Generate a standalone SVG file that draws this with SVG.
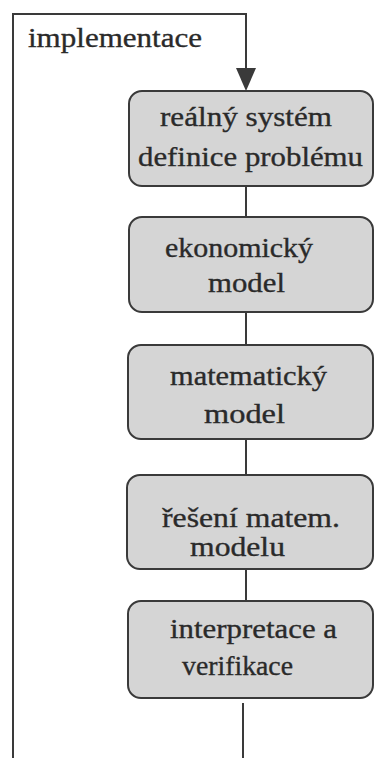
<svg xmlns="http://www.w3.org/2000/svg" width="376" height="758" viewBox="0 0 376 758">
  <style>
    .box { fill: #d5d5d5; stroke: #3a3a3a; stroke-width: 2; }
    .wire { fill: none; stroke: #3a3a3a; stroke-width: 2; }
    .lbl { font-family: 'Liberation Serif', 'DejaVu Serif', 'Times New Roman', serif; font-size: 28px; fill: #2a2a2a; stroke: #2a2a2a; stroke-width: 0.35; }
  </style>
  <rect width="376" height="758" fill="#ffffff"/>

  <!-- connectors -->
  <g id="connectors">
    <!-- feedback loop: implementace back to the first step -->
    <path class="wire" d="M243,703 V758 M13,758 V14 H246 V70"/>
    <polygon points="236,68 256,68 246,91" fill="#3a3a3a"/>
    <path class="wire" d="M246,186 V217 M246,312 V345 M246,439 V475 M246,569 V601"/>
  </g>

  <g id="label-implementace">
    <text class="lbl" x="28" y="47" textLength="174" lengthAdjust="spacingAndGlyphs">implementace</text>
  </g>

  <g id="n1">
    <rect class="box" x="129" y="91" width="244" height="95" rx="13"/>
    <text class="lbl" x="160" y="126" textLength="172" lengthAdjust="spacingAndGlyphs">reálný systém</text>
    <text class="lbl" x="138" y="166" textLength="225" lengthAdjust="spacingAndGlyphs">definice problému</text>
  </g>

  <g id="n2">
    <rect class="box" x="129" y="217" width="244" height="95" rx="13"/>
    <text class="lbl" x="165" y="257" textLength="148" lengthAdjust="spacingAndGlyphs">ekonomický</text>
    <text class="lbl" x="208" y="292" textLength="77" lengthAdjust="spacingAndGlyphs">model</text>
  </g>

  <g id="n3">
    <rect class="box" x="128" y="345" width="245" height="94" rx="13"/>
    <text class="lbl" x="170" y="385" textLength="157" lengthAdjust="spacingAndGlyphs">matematický</text>
    <text class="lbl" x="204" y="423" textLength="81" lengthAdjust="spacingAndGlyphs">model</text>
  </g>

  <g id="n4">
    <rect class="box" x="127" y="475" width="246" height="94" rx="13"/>
    <text class="lbl" x="162" y="527" textLength="178" lengthAdjust="spacingAndGlyphs">řešení matem.</text>
    <text class="lbl" x="190" y="556" textLength="95" lengthAdjust="spacingAndGlyphs">modelu</text>
  </g>

  <g id="n5">
    <rect class="box" x="128" y="601" width="245" height="97" rx="13"/>
    <text class="lbl" x="170" y="638" textLength="167" lengthAdjust="spacingAndGlyphs">interpretace a</text>
    <text class="lbl" x="182" y="675" textLength="111" lengthAdjust="spacingAndGlyphs">verifikace</text>
  </g>
</svg>
